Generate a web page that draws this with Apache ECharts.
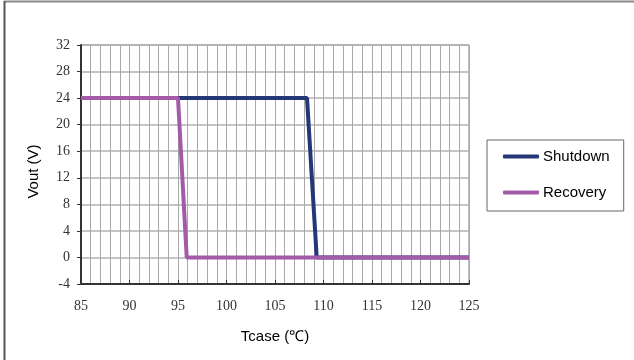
<!DOCTYPE html>
<html><head><meta charset="utf-8">
<script src="https://cdn.jsdelivr.net/npm/echarts@6/dist/echarts.min.js"></script>
<style>html,body{margin:0;padding:0;background:#fff}#c{width:634px;height:360px}</style>
</head><body><div id="c"></div>
<script>
const seriesNames = ['Shutdown', 'Recovery'];
const shutdownTemp = [85, 108.3, 109.3, 125];
const shutdownVout = [24, 24, 0, 0];
const recoveryTemp = [85, 95.0, 95.9, 125];
const recoveryVout = [24, 24, 0, 0];
const xTitle = 'Tcase (℃)';
const yTitle = 'Vout (V)';

const pair = (xs, ys) => xs.map((x, i) => [x, ys[i]]);
const chart = echarts.init(document.getElementById('c'), null, {renderer: 'canvas'});
const serif = '"Liberation Serif", "DejaVu Serif", serif';
const sans = '"Liberation Sans", Arial, sans-serif';
chart.setOption({
  animation: false,
  backgroundColor: '#fff',
  grid: {left: 81, top: 45, right: 165, bottom: 76, show: true, borderColor: '#808080', borderWidth: 1},
  xAxis: {
    type: 'value', min: 85, max: 125, interval: 5,
    name: xTitle, nameLocation: 'middle', nameGap: 45,
    nameTextStyle: {fontFamily: sans, fontSize: 15, color: '#000'},
    axisLine: {show: true, onZero: false, lineStyle: {color: '#333', width: 2}},
    axisTick: {show: true, inside: true, length: 4, lineStyle: {color: '#333'}},
    minorTick: {show: false, splitNumber: 5},
    axisLabel: {fontFamily: serif, fontSize: 14, color: '#333', margin: 15},
    splitLine: {show: true, lineStyle: {color: '#a8a8a8', width: 1}},
    minorSplitLine: {show: true, lineStyle: {color: '#a8a8a8', width: 1}}
  },
  yAxis: {
    type: 'value', min: -4, max: 32, interval: 4,
    name: yTitle, nameLocation: 'middle', nameGap: 40, nameRotate: 90,
    nameTextStyle: {fontFamily: sans, fontSize: 15, color: '#000', padding: [0, 14, 0, 0]},
    axisLine: {show: true, onZero: false, lineStyle: {color: '#333', width: 2}},
    axisTick: {show: true, inside: false, length: 4, lineStyle: {color: '#333'}},
    axisLabel: {fontFamily: serif, fontSize: 14, color: '#333', margin: 11},
    splitLine: {show: true, lineStyle: {color: '#b0b0b0', width: 1.5}}
  },
  legend: {
    orient: 'vertical', left: 487, top: 140,
    padding: [9, 14, 11, 16], itemGap: 21,
    borderColor: '#666', borderWidth: 1,
    itemWidth: 36, itemHeight: 4, icon: 'roundRect',
    textStyle: {fontFamily: sans, fontSize: 15, color: '#000', padding: [0, 0, 0, -1]},
    data: seriesNames
  },
  series: [
    {name: seriesNames[0], type: 'line', data: pair(shutdownTemp, shutdownVout), symbol: 'none',
     lineStyle: {color: '#243777', width: 4}, itemStyle: {color: '#243777'}, z: 2},
    {name: seriesNames[1], type: 'line', data: pair(recoveryTemp, recoveryVout), symbol: 'none',
     lineStyle: {color: '#A35BA8', width: 4}, itemStyle: {color: '#A35BA8'}, z: 3}
  ],
  graphic: [
    {type: 'line', shape: {x1: 4, y1: 1.5, x2: 634, y2: 1.5}, style: {stroke: '#8a8a8a', lineWidth: 2}, silent: true},
    {type: 'line', shape: {x1: 4.5, y1: 1, x2: 4.5, y2: 360}, style: {stroke: '#555', lineWidth: 2}, silent: true}
  ]
});
</script></body></html>
